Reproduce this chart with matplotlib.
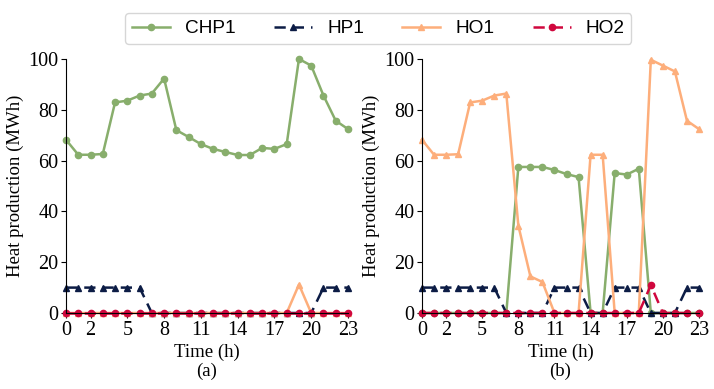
import matplotlib
matplotlib.use("Agg")
import matplotlib.pyplot as plt

hours = list(range(24))
xticks = [0, 2, 5, 8, 11, 14, 17, 20, 23]
yticks = [0, 20, 40, 60, 80, 100]

# case (a)
chp1_a = [68.2, 62.3, 62.3, 62.6, 82.9, 83.6, 85.6, 86.4, 92.3, 72.0, 69.3, 66.5,
          64.6, 63.4, 62.2, 62.2, 65.0, 64.6, 66.5, 100.0, 97.4, 85.6, 75.7, 72.4]
hp1_a = [10, 10, 10, 10, 10, 10, 10, 0, 0, 0, 0, 0,
         0, 0, 0, 0, 0, 0, 0, 0, 0, 10, 10, 10]
ho1_a = [0, 0, 0, 0, 0, 0, 0, 0, 0, 0, 0, 0,
         0, 0, 0, 0, 0, 0, 0, 11.2, 0, 0, 0, 0]
ho2_a = [0] * 24

# case (b)
chp1_b = [0, 0, 0, 0, 0, 0, 0, 0, 57.5, 57.5, 57.5, 56.3,
          54.7, 53.5, 0, 0, 55.1, 54.5, 56.8, 0, 0, 0, 0, 0]
hp1_b = [10, 10, 10, 10, 10, 10, 10, 0, 0, 0, 0, 10,
         10, 10, 0, 0, 10, 10, 10, 0, 0, 0, 10, 10]
ho1_b = [68.2, 62.3, 62.3, 62.5, 82.9, 83.6, 85.6, 86.4, 34.4, 14.4, 12.2, 0,
         0, 0, 62.3, 62.3, 0, 0, 0, 99.7, 97.4, 95.1, 75.7, 72.4]
ho2_b = [0, 0, 0, 0, 0, 0, 0, 0, 0, 0, 0, 0,
         0, 0, 0, 0, 0, 0, 0, 11.0, 0, 0, 0, 0]

labels = ["CHP1", "HP1", "HO1", "HO2"]
colors = ["#88ae6c", "#0c1c45", "#fdae7b", "#d0073d"]
markers = ["o", "^", "^", "o"]
styles = ["-", "--", "-", "--"]

serif = ["Liberation Serif", "DejaVu Serif"]
plt.rcParams["font.family"] = serif

fig = plt.figure(figsize=(7.14, 3.89), dpi=100)
ax_a = fig.add_axes([66 / 714, 1 - 313 / 389, 282 / 714, 254 / 389])
ax_b = fig.add_axes([422 / 714, 1 - 313 / 389, 277 / 714, 254 / 389])

for ax, series, tag in [(ax_a, [chp1_a, hp1_a, ho1_a, ho2_a], "(a)"),
                        (ax_b, [chp1_b, hp1_b, ho1_b, ho2_b], "(b)")]:
    for vals, lab, c, m, ls in zip(series, labels, colors, markers, styles):
        line, = ax.plot(hours, vals, color=c, marker=m, linestyle=ls, linewidth=1.8,
                        markersize=4.5, label=lab, clip_on=False)
        if ls == "--":
            line.set_dashes((4.5, 2.8))
    ax.set_xlim(0, 23)
    ax.set_ylim(0, 100)
    ax.set_xticks(xticks)
    ax.set_yticks(yticks)
    ax.tick_params(labelsize=14.5, length=3.5, width=0.8, pad=2)
    ax.spines["top"].set_visible(False)
    ax.spines["right"].set_visible(False)
    ax.set_xlabel("Time (h)\n" + tag, fontsize=13.5, labelpad=3, linespacing=1.15)
    ax.set_ylabel("Heat production (MWh)", fontsize=13.5, labelpad=3)

handles, labs = ax_a.get_legend_handles_labels()
leg = fig.legend(handles, labs, loc="upper center", bbox_to_anchor=(0.53, 0.99), ncol=4,
                 prop={"family": ["Liberation Sans", "DejaVu Sans"], "size": 13.7},
                 frameon=True, fancybox=True, edgecolor="#cccccc",
                 borderpad=0.35, handlelength=2.0, columnspacing=2.0)
leg.get_frame().set_linewidth(1.0)

fig.savefig("out.png", dpi=100)
